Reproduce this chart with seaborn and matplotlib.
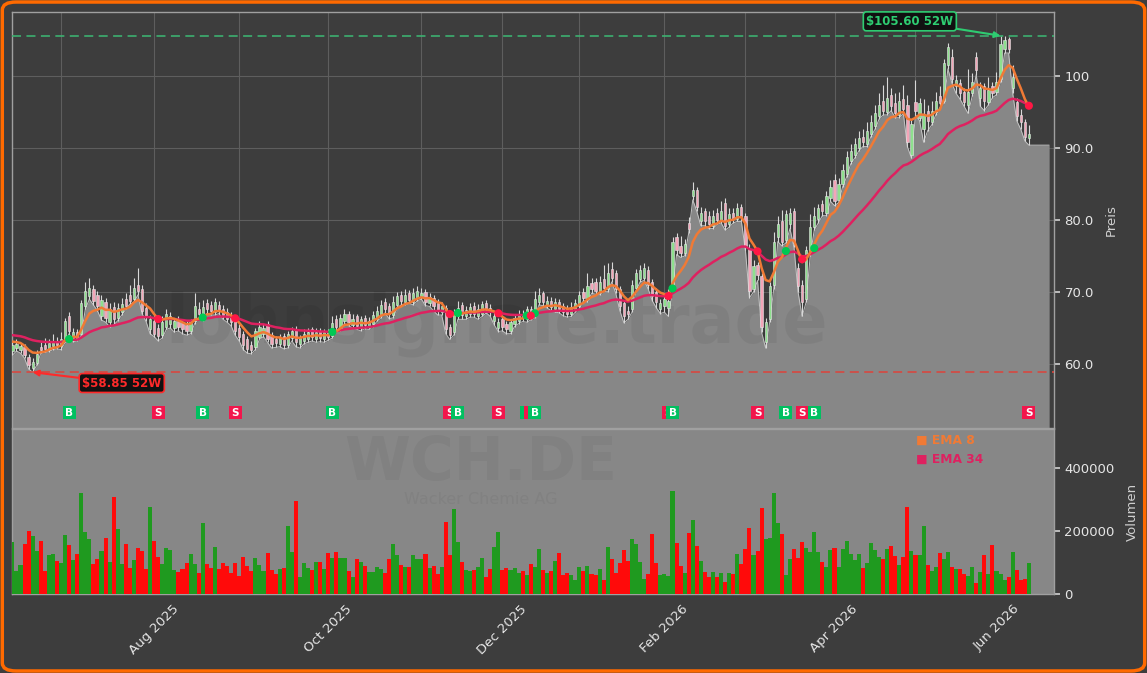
import numpy as np
import pandas as pd
import matplotlib
matplotlib.use("Agg")
import matplotlib.pyplot as plt
import seaborn as sns
from matplotlib.patches import FancyBboxPatch

# ---------------- data ----------------
ticker = "WCH.DE"
company = "Wacker Chemie AG"
watermark = "lohnsignale.trade"

start_date = "2025-06-13"
end_date = "2026-06-11"
holidays = ["2025-12-24", "2025-12-25", "2025-12-26", "2025-12-31",
            "2026-01-01", "2026-04-03", "2026-04-06", "2026-05-01"]

opens = [
    61.8, 62.2, 62.0, 62.4, 61.0, 59.4, 60.2, 62.3, 62.6, 62.0,
    62.5, 63.2, 62.5, 63.3, 66.6, 63.6, 64.5, 64.2, 68.0, 69.4,
    70.4, 69.6, 66.6, 68.6, 65.8, 67.9, 66.4, 67.2, 69.0, 69.6,
    69.0, 71.0, 70.4, 67.8, 64.8, 66.0, 65.0, 64.0, 65.2, 65.6,
    65.0, 66.0, 65.8, 65.4, 64.6, 65.9, 67.6, 66.4, 68.4, 68.2,
    67.2, 68.2, 67.6, 67.2, 66.6, 66.4, 65.0, 64.2, 63.4, 62.6,
    62.4, 63.8, 64.2, 65.6, 64.0, 63.4, 62.8, 63.9, 62.6, 63.6,
    64.9, 62.8, 63.2, 63.5, 64.8, 63.4, 64.6, 63.4, 64.5, 63.9,
    66.2, 65.0, 66.0, 66.9, 65.4, 66.6, 65.0, 66.4, 65.2, 65.6,
    66.3, 66.8, 68.6, 68.0, 66.8, 68.2, 69.6, 68.6, 69.8, 68.6,
    69.2, 69.4, 70.0, 68.4, 69.2, 68.4, 67.2, 67.8, 65.2, 64.4,
    66.6, 68.2, 66.6, 67.0, 68.0, 66.6, 67.0, 68.4, 67.8, 66.0,
    65.0, 66.2, 65.6, 64.6, 65.6, 66.0, 67.0, 66.2, 67.6, 66.8,
    68.6, 69.8, 68.2, 68.8, 67.6, 68.6, 68.0, 67.6, 67.0, 67.6,
    68.0, 70.0, 69.0, 71.2, 71.4, 70.0, 71.8, 70.4, 73.2, 72.6,
    70.4, 68.4, 67.4, 67.6, 70.6, 71.8, 72.0, 73.0, 71.4, 70.0,
    67.6, 68.0, 67.8, 70.2, 77.6, 76.4, 75.4, 79.6, 83.4, 84.2,
    79.8, 81.2, 80.6, 79.2, 81.0, 80.0, 82.4, 79.4, 81.0, 80.2,
    81.8, 80.6, 76.0, 70.4, 73.8, 72.2, 63.0, 66.2, 71.0, 77.6,
    79.8, 77.2, 79.4, 81.2, 73.4, 71.0, 69.0, 75.4, 79.0, 80.2,
    82.2, 81.0, 83.0, 85.6, 82.8, 85.0, 86.4, 88.2, 89.0, 90.0,
    91.6, 90.6, 92.0, 93.0, 94.4, 96.6, 95.0, 97.4, 96.2, 94.6,
    96.8, 96.0, 89.0, 96.4, 94.2, 92.6, 95.2, 93.6, 95.0, 97.2,
    96.6, 101.6, 102.6, 98.6, 99.0, 97.8, 96.0, 97.6, 102.6, 97.0,
    98.6, 96.4, 98.6, 97.8, 99.6, 103.8, 105.2, 98.4, 96.4, 94.6,
    93.6, 91.4]

closes = [
    62.6, 62.8, 62.5, 61.2, 59.9, 60.3, 61.4, 61.9, 62.1, 62.9,
    63.1, 62.6, 63.4, 66.0, 64.6, 64.4, 63.6, 68.4, 70.2, 70.6,
    68.7, 68.0, 68.9, 66.4, 67.6, 66.2, 67.8, 68.3, 68.1, 68.8,
    70.6, 70.2, 67.4, 66.6, 66.2, 64.2, 63.9, 65.8, 66.9, 66.6,
    65.9, 65.2, 64.9, 64.6, 65.8, 68.0, 66.9, 67.9, 67.6, 67.3,
    68.6, 67.5, 66.8, 66.3, 65.8, 64.6, 63.8, 62.6, 62.1, 61.9,
    64.6, 65.2, 65.0, 63.5, 62.8, 62.9, 63.7, 62.7, 64.1, 64.6,
    63.0, 63.6, 64.2, 64.4, 63.7, 64.5, 63.6, 64.4, 63.8, 65.7,
    65.2, 66.4, 67.0, 65.8, 66.3, 65.3, 66.2, 65.4, 66.0, 66.8,
    67.4, 68.2, 67.6, 66.9, 68.6, 69.4, 68.8, 69.6, 68.9, 69.9,
    70.1, 69.9, 68.6, 69.3, 68.0, 67.4, 68.0, 64.8, 64.0, 67.0,
    67.8, 66.8, 67.5, 67.9, 67.0, 67.7, 68.3, 67.6, 67.2, 66.6,
    65.8, 65.2, 64.8, 65.8, 66.4, 66.8, 66.4, 67.6, 66.6, 69.0,
    69.6, 68.6, 68.8, 67.9, 68.6, 67.6, 67.2, 67.0, 67.9, 68.4,
    69.6, 69.2, 70.8, 70.4, 70.2, 71.4, 70.6, 72.6, 72.0, 70.4,
    68.0, 66.6, 67.0, 70.9, 72.6, 73.1, 73.3, 71.0, 69.4, 68.6,
    68.4, 69.0, 68.8, 77.0, 75.8, 75.4, 76.6, 78.8, 84.2, 81.8,
    81.0, 79.8, 79.4, 80.6, 80.0, 81.2, 79.2, 80.8, 80.2, 81.6,
    80.4, 76.4, 70.2, 73.6, 72.4, 65.2, 65.8, 70.8, 77.0, 79.4,
    77.0, 80.9, 81.0, 76.8, 70.8, 68.6, 75.8, 79.0, 80.6, 81.6,
    81.2, 83.4, 84.6, 82.6, 85.0, 87.0, 88.8, 89.6, 90.6, 91.4,
    90.8, 92.4, 93.6, 94.8, 96.0, 95.2, 97.0, 95.8, 94.8, 96.6,
    95.4, 90.8, 93.4, 95.2, 96.2, 94.6, 93.8, 95.2, 96.6, 96.2,
    101.8, 104.0, 99.6, 99.4, 97.6, 96.4, 97.8, 99.2, 100.8, 98.4,
    96.6, 98.0, 97.6, 99.2, 104.4, 105.0, 103.8, 99.8, 94.4, 93.6,
    91.6, 92.0]

highs = [
    63.2, 63.4, 62.9, 62.8, 61.4, 60.8, 61.9, 63.0, 63.6, 63.4,
    64.1, 63.8, 64.4, 66.4, 67.2, 65.0, 64.9, 68.9, 71.4, 71.9,
    71.0, 70.2, 69.6, 69.2, 68.4, 68.6, 68.4, 69.2, 69.8, 71.0,
    72.0, 73.4, 71.0, 68.4, 66.8, 66.6, 65.6, 66.6, 67.6, 67.2,
    66.4, 66.6, 66.2, 65.9, 66.3, 69.8, 68.6, 68.9, 69.0, 68.8,
    69.2, 68.8, 68.2, 67.8, 67.2, 66.8, 65.6, 64.6, 63.9, 63.2,
    65.0, 66.0, 65.6, 66.0, 64.4, 63.9, 64.2, 64.3, 64.6, 65.2,
    65.3, 64.0, 64.8, 65.0, 65.2, 65.0, 65.0, 64.9, 64.9, 66.6,
    66.8, 67.0, 67.6, 67.3, 66.9, 67.0, 66.7, 66.8, 66.5, 67.4,
    68.0, 68.9, 69.2, 68.5, 69.4, 70.0, 70.2, 70.4, 70.3, 70.6,
    70.8, 70.5, 70.4, 69.9, 69.6, 69.0, 68.6, 68.2, 65.6, 67.6,
    68.8, 68.6, 68.1, 68.4, 68.6, 68.3, 68.8, 68.9, 68.3, 67.2,
    66.4, 66.7, 66.0, 66.3, 66.9, 67.5, 67.5, 68.0, 68.1, 70.2,
    70.6, 70.2, 69.4, 69.3, 69.1, 69.0, 68.5, 68.2, 68.6, 69.0,
    70.2, 70.6, 72.6, 71.9, 72.0, 72.2, 73.8, 74.0, 74.2, 73.0,
    70.8, 68.8, 68.0, 71.6, 73.2, 73.8, 74.0, 73.6, 71.8, 70.5,
    69.0, 69.6, 70.4, 77.6, 78.2, 77.8, 77.4, 80.4, 85.3, 84.6,
    81.8, 81.6, 81.2, 81.4, 81.6, 82.6, 83.0, 81.6, 81.6, 82.4,
    82.2, 81.0, 76.6, 74.4, 74.2, 72.6, 66.4, 71.4, 78.4, 80.6,
    81.4, 81.4, 81.6, 81.6, 74.0, 71.6, 76.4, 80.8, 81.8, 82.2,
    82.8, 84.0, 85.6, 86.4, 85.8, 87.8, 89.6, 90.6, 91.4, 92.4,
    92.6, 93.6, 94.6, 96.0, 97.6, 98.8, 99.8, 98.4, 97.6, 97.8,
    98.8, 97.4, 94.0, 99.4, 97.0, 96.8, 96.0, 96.6, 97.8, 98.6,
    102.4, 104.6, 103.8, 100.2, 99.6, 98.4, 101.0, 100.4, 103.4, 99.2,
    99.0, 99.8, 99.2, 100.6, 105.6, 105.5, 105.4, 101.6, 97.0, 95.4,
    94.0, 93.2]

lows = [
    61.2, 61.8, 61.5, 60.8, 59.3, 58.85, 59.8, 61.5, 61.6, 61.7,
    62.0, 62.1, 62.0, 63.0, 64.2, 63.1, 63.2, 64.0, 67.6, 69.0,
    68.2, 67.4, 66.1, 65.8, 65.2, 65.4, 66.0, 66.8, 67.6, 68.3,
    68.6, 69.6, 67.0, 65.9, 64.2, 63.8, 63.2, 63.6, 64.8, 65.0,
    64.4, 64.6, 64.2, 64.0, 64.2, 65.6, 66.4, 66.0, 67.0, 66.8,
    66.8, 67.0, 66.2, 65.8, 65.3, 64.0, 63.2, 62.0, 61.5, 61.4,
    62.0, 63.4, 63.8, 63.0, 62.2, 62.3, 62.4, 62.1, 62.2, 63.2,
    62.4, 62.2, 62.8, 63.0, 63.2, 63.0, 63.1, 63.0, 63.3, 63.6,
    64.7, 64.6, 65.6, 65.3, 65.0, 64.8, 64.6, 64.9, 64.8, 65.2,
    65.9, 66.4, 67.1, 66.3, 66.4, 67.8, 68.2, 68.2, 68.4, 68.2,
    68.8, 69.0, 68.1, 68.0, 67.4, 66.8, 66.8, 64.2, 63.4, 64.0,
    66.2, 66.2, 66.2, 66.5, 66.5, 66.2, 66.6, 67.1, 66.6, 65.4,
    64.5, 64.6, 64.2, 64.2, 65.2, 65.6, 65.9, 65.8, 66.1, 66.4,
    68.2, 68.1, 67.8, 67.4, 67.2, 67.1, 66.7, 66.5, 66.6, 67.2,
    67.6, 68.8, 68.6, 69.8, 69.7, 69.6, 70.1, 70.0, 71.4, 69.8,
    67.4, 65.7, 66.2, 67.2, 70.2, 71.4, 71.6, 70.4, 68.8, 67.8,
    67.0, 67.2, 66.6, 70.0, 75.2, 74.8, 75.0, 78.2, 82.8, 81.2,
    79.2, 79.2, 78.8, 78.8, 79.4, 79.6, 78.6, 79.0, 79.6, 79.8,
    79.8, 75.8, 69.2, 70.0, 71.6, 64.4, 62.2, 65.8, 70.4, 77.0,
    76.4, 76.8, 78.8, 76.2, 70.0, 66.6, 68.6, 75.0, 78.6, 79.6,
    80.6, 80.6, 82.6, 82.0, 82.4, 84.6, 86.0, 87.8, 88.6, 89.6,
    90.2, 90.2, 91.6, 92.6, 94.0, 94.6, 94.6, 95.2, 94.2, 94.2,
    94.8, 90.2, 88.6, 94.6, 93.8, 90.8, 92.4, 93.2, 94.6, 95.6,
    96.2, 101.0, 99.0, 97.6, 96.8, 95.8, 94.8, 97.2, 100.2, 95.8,
    95.2, 96.0, 97.0, 97.4, 99.2, 103.2, 103.2, 97.6, 93.8, 92.6,
    91.0, 90.4]

volumes_k = [  # thousands of shares
    165, 73, 91, 157, 200, 183, 135, 167, 72, 123,
    126, 104, 99, 186, 154, 107, 126, 319, 198, 175,
    94, 110, 135, 176, 101, 309, 205, 94, 157, 82,
    107, 145, 136, 79, 277, 167, 117, 94, 145, 139,
    76, 69, 78, 98, 126, 94, 66, 224, 94, 82,
    148, 79, 98, 88, 66, 98, 57, 117, 88, 72,
    113, 91, 72, 129, 76, 63, 79, 82, 217, 132,
    296, 54, 98, 82, 76, 101, 101, 79, 129, 113,
    132, 113, 113, 72, 54, 110, 101, 88, 69, 69,
    85, 79, 66, 110, 157, 123, 91, 85, 85, 123,
    110, 110, 126, 82, 88, 63, 85, 227, 123, 271,
    164, 101, 76, 74, 76, 85, 113, 54, 79, 148,
    198, 76, 82, 76, 82, 66, 72, 60, 94, 85,
    142, 75, 66, 72, 104, 130, 60, 66, 60, 44,
    85, 72, 88, 63, 60, 79, 44, 149, 111, 66,
    98, 139, 104, 174, 158, 101, 47, 63, 190, 98,
    60, 63, 56, 327, 162, 88, 66, 193, 235, 152,
    104, 69, 53, 69, 53, 66, 37, 66, 63, 126,
    95, 142, 209, 123, 136, 273, 174, 178, 321, 225,
    190, 60, 111, 142, 114, 165, 146, 133, 197, 133,
    101, 85, 139, 146, 85, 142, 168, 126, 107, 126,
    82, 98, 162, 139, 117, 111, 142, 152, 120, 91,
    117, 276, 136, 123, 123, 216, 91, 72, 85, 130,
    111, 133, 85, 79, 79, 63, 56, 85, 34, 69,
    123, 63, 155, 72, 63, 44, 53, 133, 75, 44,
    47, 98]

ema8_seed = 63.1
ema34_seed = 64.0

buy_signals = [14, 47, 79, 110, 127, 129, 163, 191, 198]
sell_signals = [36, 55, 108, 120, 128, 162, 184, 195, 251]

price_ticks = [60, 70, 80, 90, 100]
price_tick_labels = ["60.0", "70.0", "80.0", "90.0", "100"]
volume_ticks = [0, 200000, 400000]
volume_tick_labels = ["0", "200000", "400000"]
month_tick_labels = ["", "Aug 2025", "", "Oct 2025", "", "Dec 2025",
                     "", "Feb 2026", "", "Apr 2026", "", "Jun 2026"]

# ---------------- prep ----------------
dates = pd.bdate_range(start_date, end_date)
dates = dates[~dates.isin(pd.to_datetime(holidays))]
n = len(dates)
x = np.arange(n)
o = np.array(opens); c = np.array(closes)
h = np.array(highs); l = np.array(lows)
v = np.array(volumes_k) * 1000.0
up = c >= o


def ema(values, span, seed):
    a = 2.0 / (span + 1)
    out = [seed]
    for val in values[1:]:
        out.append(a * val + (1 - a) * out[-1])
    return np.array(out)


ema8 = ema(c, 8, ema8_seed)
ema34 = ema(c, 34, ema34_seed)

month_starts = [i for i in range(1, n) if dates[i].month != dates[i - 1].month]

# ---------------- style ----------------
BG = "#3d3d3d"
FILL = "#878787"
UP_BODY = "#8ee08e"
DN_BODY = "#f3a5b8"
WICK = "#d8d8d8"
C_EMA8 = "#f07a35"
C_EMA34 = "#de2160"
TXT = "#e6e6e6"

sns.set_theme(style="dark")
plt.rcParams['font.family'] = ['DejaVu Sans']

fig = plt.figure(figsize=(11.47, 6.73), dpi=100)
fig.patch.set_facecolor(BG)
L = 12 / 1147
W = 1042 / 1147
ax = fig.add_axes([L, (673 - 428) / 673, W, 416 / 673])
axv = fig.add_axes([L, (673 - 594) / 673, W, 165 / 673], sharex=ax)

ylo, yhi = 51.1, 108.9
ax.set_facecolor(BG)
axv.set_facecolor(FILL)

# grid
ax.set_axisbelow(True)
ax.grid(True, color="#5e5e5e", lw=0.8)
axv.grid(False)

# fill under the lows
fx = np.arange(n + 5)
fy = np.append(l, [l[-1]] * 5)
ax.fill_between(fx, fy, ylo, color=FILL, zorder=2, lw=0)
ax.plot(fx, fy, color="#c4c4c4", lw=0.7, zorder=2.1)

# watermark
ax.text(0.465, 0.25, watermark, transform=ax.transAxes, ha="center", va="center",
        fontsize=48, fontweight="bold", color="black", alpha=0.055, zorder=2.5)

# candles
ax.vlines(x, l, h, color=WICK, lw=0.8, zorder=3)
ax.bar(x[up], (c - o)[up], bottom=o[up], width=0.55, color=UP_BODY,
       edgecolor="#e8e8e8", linewidth=0.4, zorder=4)
ax.bar(x[~up], (o - c)[~up], bottom=c[~up], width=0.55, color=DN_BODY,
       edgecolor="#e8e8e8", linewidth=0.4, zorder=4)

# EMAs
sns.lineplot(x=x, y=ema8, ax=ax, color=C_EMA8, lw=1.8, zorder=6)
sns.lineplot(x=x, y=ema34, ax=ax, color=C_EMA34, lw=1.8, zorder=5.5)

# crossover dots
bi = np.array(buy_signals); si = np.array(sell_signals)
sns.scatterplot(x=bi, y=(ema8[bi] + ema34[bi]) / 2, ax=ax, color="#00c853",
                s=34, edgecolor="none", zorder=7)
sns.scatterplot(x=si, y=(ema8[si] + ema34[si]) / 2, ax=ax, color="#ff1744",
                s=34, edgecolor="none", zorder=7)

# signal boxes
sig = sorted([(i, "B") for i in buy_signals] + [(i, "S") for i in sell_signals])
for k, (i, kind) in enumerate(sig):
    col = "#00c060" if kind == "B" else "#f2164c"
    z = 8 + k * 0.01
    ax.scatter([i], [53.2], marker="s", s=88, color=col, edgecolor="none", zorder=z)
    ax.text(i, 53.2, kind, ha="center", va="center", fontsize=7.5,
            fontweight="bold", color="white", zorder=z + 0.005)

# 52 week high / low
imax = int(np.argmax(h)); hmax = h[imax]
imin = int(np.argmin(l)); lmin = l[imin]
ax.axhline(hmax, color="#3cb371", ls=(0, (5, 3)), lw=1.3, alpha=0.9, zorder=5)
ax.axhline(lmin, color="#d9473f", ls=(0, (5, 3)), lw=1.3, alpha=0.9, zorder=5)
ax.annotate(f"${hmax:.2f} 52W", xy=(imax, hmax), xytext=(imax - 22.4, 107.6),
            ha="center", va="center", fontsize=8.5, fontweight="bold", color="#2ecc71",
            bbox=dict(boxstyle="round,pad=0.25", fc="#111111", ec="#2ecc71", lw=1.2),
            arrowprops=dict(arrowstyle="-|>", color="#2ecc71", lw=1.5,
                            shrinkA=0, shrinkB=0), zorder=9)
ax.annotate(f"${lmin:.2f} 52W", xy=(imin, lmin), xytext=(imin + 22.0, 57.35),
            ha="center", va="center", fontsize=8.5, fontweight="bold", color="#ff2a2a",
            bbox=dict(boxstyle="round,pad=0.25", fc="#111111", ec="#ff2a2a", lw=1.2),
            arrowprops=dict(arrowstyle="-|>", color="#ff2a2a", lw=1.5,
                            shrinkA=0, shrinkB=0), zorder=9)

ax.set_ylim(ylo, yhi)
ax.set_xlim(-0.1, 257.2)

# volume
vcol = np.where(up, "#1f9a1f", "#ff0a0a")
axv.bar(x, v, width=1.0, color=vcol, linewidth=0, zorder=3)
axv.set_ylim(0, 523000)
axv.text(0.45, 0.79, ticker, transform=axv.transAxes, ha="center", va="center",
         fontsize=43, fontweight="bold", color="black", alpha=0.045, zorder=1)
axv.text(0.45, 0.572, company, transform=axv.transAxes, ha="center", va="center",
         fontsize=11.5, color="black", alpha=0.045, zorder=1)
axv.text(0.8676, 0.931, "■ EMA 8", transform=axv.transAxes, ha="left", va="center",
         fontsize=8.8, fontweight="bold", color=C_EMA8, zorder=5)
axv.text(0.8676, 0.816, "■ EMA 34", transform=axv.transAxes, ha="left", va="center",
         fontsize=8.8, fontweight="bold", color=C_EMA34, zorder=5)

# axes cosmetics
for a in (ax, axv):
    a.yaxis.tick_right()
    a.yaxis.set_label_position("right")
    for s in a.spines.values():
        s.set_visible(True)
        s.set_color("#a0a0a0")
        s.set_linewidth(1.0)

ax.set_yticks(price_ticks)
ax.set_yticklabels(price_tick_labels)
ax.set_ylabel("Preis", color="#cfcfcf", fontsize=9.5, labelpad=8)
ax.tick_params(axis="y", colors=TXT, labelsize=9.5, length=4, color="#cccccc")
ax.tick_params(axis="x", length=0, labelbottom=False)
ax.set_xlabel("")

axv.set_yticks(volume_ticks)
axv.set_yticklabels(volume_tick_labels)
axv.set_ylabel("Volumen", color="#cfcfcf", fontsize=9.5, labelpad=8)
axv.tick_params(axis="y", colors=TXT, labelsize=9.5, length=4, color="#cccccc")
axv.set_xticks(month_starts)
axv.set_xticklabels(month_tick_labels, rotation=45, ha="center")
axv.tick_params(axis="x", colors=TXT, labelsize=9.5, length=4, color="#dddddd", pad=2)
axv.set_xlabel("")

# orange frame
fig.patches.append(FancyBboxPatch((0.002, 0.003), 0.996, 0.994,
                                  boxstyle="round,pad=0,rounding_size=0.012",
                                  transform=fig.transFigure, fill=False,
                                  ec="#ff6a00", lw=2.5))

fig.savefig("out.png", dpi=100, facecolor=BG)
